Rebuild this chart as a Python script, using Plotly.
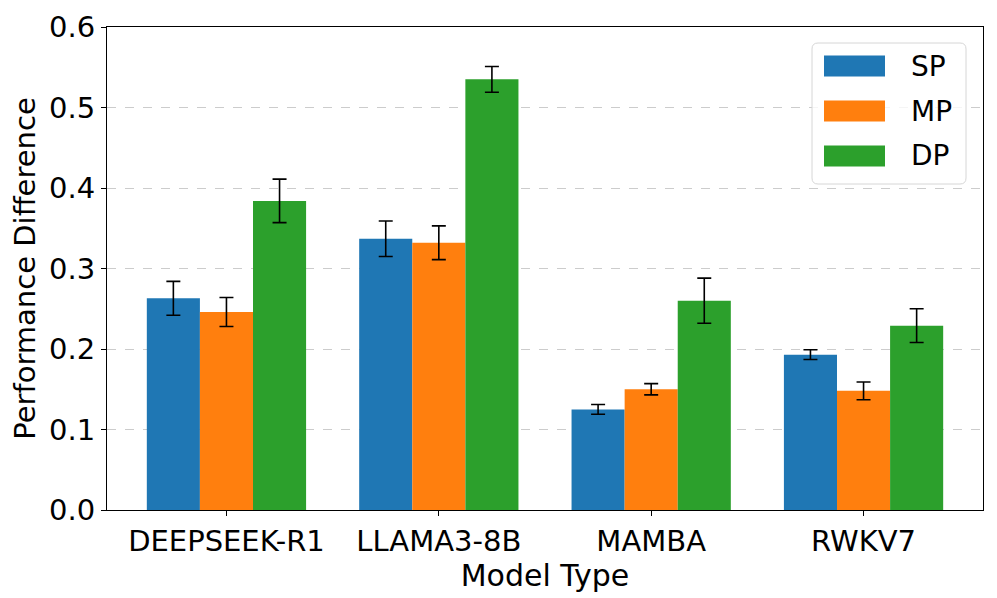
import plotly.graph_objects as go

categories = ["DEEPSEEK-R1", "LLAMA3-8B", "MAMBA", "RWKV7"]
series_names = ["SP", "MP", "DP"]
sp_values = [0.263, 0.337, 0.125, 0.193]
sp_errors = [0.021, 0.022, 0.006, 0.006]
mp_values = [0.246, 0.332, 0.150, 0.148]
mp_errors = [0.018, 0.021, 0.007, 0.011]
dp_values = [0.384, 0.535, 0.260, 0.229]
dp_errors = [0.027, 0.016, 0.028, 0.021]
y_ticks = [0.0, 0.1, 0.2, 0.3, 0.4, 0.5, 0.6]

colors = ["#1f77b4", "#ff7f0e", "#2ca02c"]
values = [sp_values, mp_values, dp_values]
errors = [sp_errors, mp_errors, dp_errors]

font_family = "DejaVu Sans"

# plot-area geometry in pixels (for placing the matplotlib-style legend)
W, H = 997, 598
ML, MR, MT, MB = 99, 22, 19, 96
PW = W - ML - MR
PH = H - MT - MB


def px_x(x):  # pixel (figure coords) -> paper fraction
    return (x - ML) / PW


def px_y(y):
    return (H - MB - y) / PH


fig = go.Figure()
for name, vals, errs, col in zip(series_names, values, errors, colors):
    fig.add_trace(go.Bar(
        name=name,
        x=categories,
        y=vals,
        marker=dict(color=col, line=dict(width=0)),
        error_y=dict(type="data", array=errs, visible=True,
                     color="black", thickness=1.6, width=7),
        showlegend=False,
    ))

# legend drawn like matplotlib's (wide patches, rounded frame)
box_l, box_r, box_t, box_b = 804, 958, 35, 176
r = 6
x0, x1 = px_x(box_l), px_x(box_r)
y0, y1 = px_y(box_b), px_y(box_t)
rx, ry = r / PW, r / PH
path = (f"M {x0+rx},{y0} L {x1-rx},{y0} Q {x1},{y0} {x1},{y0+ry} "
        f"L {x1},{y1-ry} Q {x1},{y1} {x1-rx},{y1} L {x0+rx},{y1} "
        f"Q {x0},{y1} {x0},{y1-ry} L {x0},{y0+ry} Q {x0},{y0} {x0+rx},{y0} Z")
shapes = [dict(type="path", xref="paper", yref="paper", path=path,
               line=dict(color="#d6d6d6", width=1),
               fillcolor="rgba(255,255,255,0.8)", layer="above")]
annotations = []
for i, (name, col) in enumerate(zip(series_names, colors)):
    cy = 58 + i * 45
    shapes.append(dict(type="rect", xref="paper", yref="paper",
                       x0=px_x(816), x1=px_x(877),
                       y0=px_y(cy + 10.5), y1=px_y(cy - 10.5),
                       fillcolor=col, line=dict(width=0), layer="above"))
    annotations.append(dict(xref="paper", yref="paper", x=px_x(901), y=px_y(cy),
                            xanchor="left", yanchor="middle", showarrow=False,
                            text=name, font=dict(size=28, color="black")))

fig.update_layout(
    width=W, height=H,
    barmode="group", bargap=0.25, bargroupgap=0,
    plot_bgcolor="white", paper_bgcolor="white",
    margin=dict(l=ML, r=MR, t=MT, b=MB, autoexpand=False),
    font=dict(family=font_family, size=30, color="black"),
    showlegend=False,
    shapes=shapes,
    annotations=annotations,
)
fig.update_xaxes(
    range=[-0.5625, 3.5625],
    automargin=False,
    title=dict(text="Model Type", font=dict(size=30), standoff=2),
    showline=True, linecolor="black", linewidth=1, mirror=True,
    ticks="outside", ticklen=5, tickcolor="black",
    tickfont=dict(size=29),
    showgrid=False,
)
fig.update_yaxes(
    range=[0, 0.6],
    automargin=False,
    tickvals=y_ticks,
    ticktext=[f"{v:.1f}" for v in y_ticks],
    title=dict(text="Performance Difference", font=dict(size=29), standoff=6),
    showline=True, linecolor="black", linewidth=1, mirror=True,
    ticks="outside", ticklen=5, tickcolor="black",
    tickfont=dict(size=29),
    showgrid=True, gridcolor="#cccccc", griddash="dash", gridwidth=1,
    zeroline=False,
)

fig.write_html("out.html")
